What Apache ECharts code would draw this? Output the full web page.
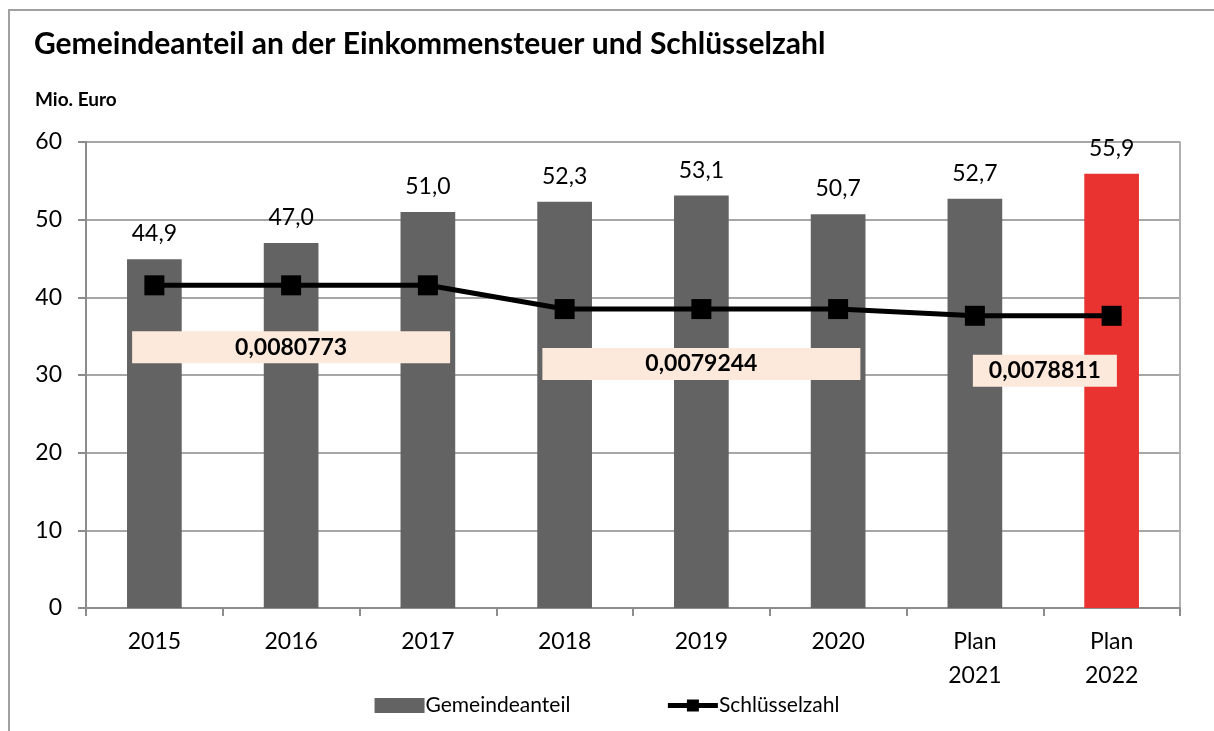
<!DOCTYPE html>
<html>
<head>
<meta charset="utf-8">
<title>Gemeindeanteil an der Einkommensteuer und Schlüsselzahl</title>
<script src="https://cdn.jsdelivr.net/npm/echarts@6/dist/echarts.min.js"></script>
<style>
	html, body { margin: 0; padding: 0; background: #fff; }
	#main { width: 1214px; height: 731px; }
</style>
</head>
<body>
<div id="main"></div>
<script type="text/javascript">
	var jahre = ['2015', '2016', '2017', '2018', '2019', '2020', 'Plan\n2021', 'Plan\n2022'];
	var gemeindeanteil = [44.9, 47.0, 51.0, 52.3, 53.1, 50.7, 52.7, 55.9];
	var schluesselzahl = [0.0080773, 0.0080773, 0.0080773, 0.0079244, 0.0079244, 0.0079244, 0.0078811, 0.0078811];
	var yTicks = [0, 10, 20, 30, 40, 50, 60];

	function deZahl(v, n) {
		return v.toFixed(n).replace('.', ',');
	}

	// Beschriftung der Schlüsselzahl nur einmal je Zeitraum
	var labelPos = { 1: { w: 318, off: [0, 62] }, 4: { w: 318, off: [0, 55] }, 6: { w: 144, off: [70, 55] } };
	var lineData = [];
	for (var i = 0; i < schluesselzahl.length; i++) {
		var item = { value: schluesselzahl[i] };
		if (labelPos[i]) {
			item.label = {
				show: true,
				position: 'inside',
				offset: labelPos[i].off,
				width: labelPos[i].w,
				height: 32,
				lineHeight: 32,
				align: 'center',
				verticalAlign: 'middle',
				backgroundColor: '#fde9dc',
				color: '#000',
				fontWeight: 'bold',
				fontSize: 23,
				formatter: function(p) { return deZahl(p.value, 7); }
			};
		}
		lineData.push(item);
	}

	var barData = [];
	for (var j = 0; j < gemeindeanteil.length; j++) {
		barData.push({
			value: gemeindeanteil[j],
			itemStyle: { color: j == gemeindeanteil.length - 1 ? '#e83331' : '#636363' }
		});
	}

	var schrift = 'Lato, "Open Sans", sans-serif';
	var myChart = echarts.init(document.getElementById('main'));
	var option = {
		animation: false,
		textStyle: { fontFamily: schrift },
		title: {
			text: 'Gemeindeanteil an der Einkommensteuer und Schlüsselzahl',
			left: 29,
			top: 24,
			textStyle: { fontSize: 30, fontWeight: 'bold', color: '#000', fontFamily: schrift }
		},
		graphic: [
			{
				type: 'rect',
				shape: { x: 9, y: 10, width: 1240, height: 760 },
				style: { fill: 'none', stroke: '#a0a0a0', lineWidth: 2 }
			},
			{
				type: 'text',
				left: 35,
				top: 90,
				style: { text: 'Mio. Euro', fontSize: 19, fontWeight: 'bold', fill: '#000', fontFamily: schrift }
			}
		],
		legend: {
			bottom: 10,
			left: 'center',
			itemGap: 95,
			itemWidth: 50,
			itemHeight: 15,
			textStyle: { fontSize: 21, color: '#000', padding: [0, 0, 0, -4] },
			data: [
				{ name: 'Gemeindeanteil', icon: 'rect' },
				{ name: 'Schlüsselzahl', lineStyle: { width: 5 } }
			]
		},
		grid: {
			left: 86,
			right: 34,
			top: 142,
			bottom: 123
		},
		xAxis: {
			type: 'category',
			data: jahre,
			axisLine: { lineStyle: { color: '#8c8c8c', width: 2 } },
			axisTick: { show: true, length: 8, lineStyle: { color: '#8c8c8c', width: 2 } },
			axisLabel: { fontSize: 23, color: '#000', margin: 17, lineHeight: 34 }
		},
		yAxis: [
			{
				type: 'value',
				min: yTicks[0],
				max: yTicks[yTicks.length - 1],
				interval: 10,
				axisLine: { show: true, lineStyle: { color: '#8c8c8c', width: 2 } },
				axisTick: { show: true, length: 8, lineStyle: { color: '#8c8c8c', width: 2 } },
				axisLabel: { fontSize: 23, color: '#000', margin: 24 },
				splitLine: { lineStyle: { color: '#a6a6a6', width: 2 } }
			},
			{
				type: 'value',
				min: 0.006,
				max: 0.009,
				position: 'right',
				axisLine: { show: true, lineStyle: { color: '#b0b0b0', width: 2 } },
				axisTick: { show: false },
				axisLabel: { show: false },
				splitLine: { show: false }
			}
		],
		series: [
			{
				name: 'Gemeindeanteil',
				type: 'bar',
				barWidth: '40%',
				itemStyle: { color: '#636363' },
				label: {
					show: true,
					position: 'top',
					distance: 14,
					fontSize: 23,
					color: '#000',
					formatter: function(p) { return deZahl(p.value, 1); }
				},
				data: barData
			},
			{
				name: 'Schlüsselzahl',
				type: 'line',
				yAxisIndex: 1,
				symbol: 'rect',
				symbolSize: 20,
				itemStyle: { color: '#000' },
				lineStyle: { color: '#000', width: 5 },
				z: 5,
				data: lineData
			}
		]
	};
	myChart.setOption(option);
</script>
</body>
</html>
